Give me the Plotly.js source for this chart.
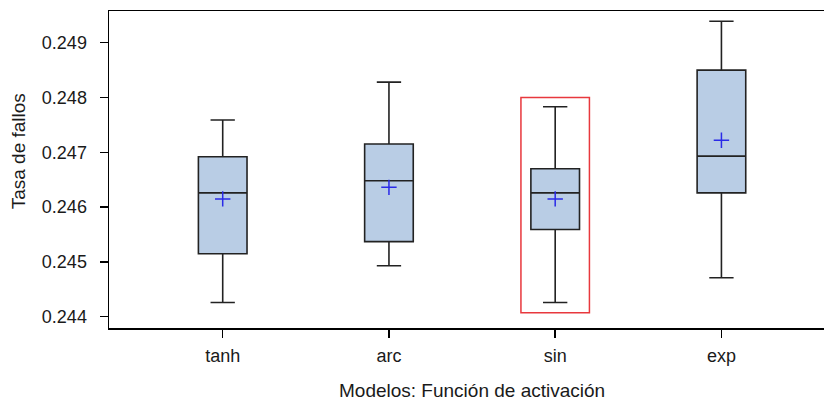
<!DOCTYPE html>
<html>
<head>
<meta charset="utf-8">
<script src="https://cdn.plot.ly/plotly-3.0.1.min.js"></script>
<style>
  html, body { margin: 0; padding: 0; background: #fff; }
  #chart { width: 824px; height: 403px; }
</style>
</head>
<body>
<div id="chart"></div>
<script>
// Activation functions compared
const modelos = ['tanh', 'arc', 'sin', 'exp'];

// Box statistics of the failure rate per model
const bigoteInferior = [0.24426, 0.24493, 0.24426, 0.24471];
const cuartil1       = [0.24515, 0.24537, 0.24559, 0.24626];
const mediana        = [0.24626, 0.24648, 0.24626, 0.24693];
const cuartil3       = [0.24692, 0.24715, 0.24670, 0.24850];
const bigoteSuperior = [0.24759, 0.24828, 0.24783, 0.24939];
const media          = [0.24615, 0.24636, 0.24615, 0.24722];

const yTicks = [0.244, 0.245, 0.246, 0.247, 0.248, 0.249];

const fontFamily = 'Arial, "Liberation Sans", sans-serif';
const textColor = '#1a1a1a';

const cajas = {
  type: 'box',
  x: modelos,
  lowerfence: bigoteInferior,
  q1: cuartil1,
  median: mediana,
  q3: cuartil3,
  upperfence: bigoteSuperior,
  boxpoints: false,
  width: 0.2925,
  whiskerwidth: 0.5,
  fillcolor: '#b9cde5',
  line: { color: '#222222', width: 1.6 },
  hoverinfo: 'skip',
  showlegend: false
};

const medias = {
  type: 'scatter',
  mode: 'markers',
  x: modelos,
  y: media,
  marker: {
    symbol: 'cross-thin',
    size: 11,
    line: { color: '#2a2ae8', width: 1.5 }
  },
  hoverinfo: 'skip',
  showlegend: false
};

// highlight frame around the selected model
const idxSel = modelos.indexOf('sin');

const layout = {
  width: 824,
  height: 403,
  margin: { l: 109, r: 0, t: 11, b: 75 },
  paper_bgcolor: '#ffffff',
  plot_bgcolor: '#ffffff',
  font: { family: fontFamily, size: 18, color: textColor },
  showlegend: false,
  xaxis: {
    type: 'category',
    range: [-0.684, 3.617],
    showgrid: false,
    zeroline: false,
    showline: true,
    mirror: true,
    linecolor: '#000',
    linewidth: 1.5,
    ticks: 'outside',
    ticklen: 8,
    tickwidth: 1.5,
    tickcolor: '#000',
    ticklabelstandoff: 3,
    tickfont: { family: fontFamily, size: 18, color: textColor },
    fixedrange: true
  },
  yaxis: {
    range: [0.243794, 0.249578],
    tickvals: yTicks,
    ticktext: yTicks.map(v => v.toFixed(3)),
    showgrid: false,
    zeroline: false,
    showline: true,
    linecolor: '#000',
    linewidth: 1.5,
    ticks: 'outside',
    ticklen: 8,
    tickwidth: 1.5,
    tickcolor: '#000',
    ticklabelstandoff: 9,
    tickfont: { family: fontFamily, size: 18, color: textColor },
    fixedrange: true
  },
  shapes: [{
    type: 'rect',
    xref: 'x', yref: 'y',
    x0: idxSel - 0.206, x1: idxSel + 0.206,
    y0: 0.24407, y1: 0.24800,
    line: { color: '#e8383d', width: 1.5 },
    fillcolor: 'rgba(0,0,0,0)'
  }],
  annotations: [
    {
      text: 'Modelos: Función de activación',
      xref: 'paper', yref: 'paper',
      x: 0.508, y: -0.197,
      xanchor: 'center', yanchor: 'middle',
      showarrow: false,
      font: { family: fontFamily, size: 19, color: textColor }
    },
    {
      text: 'Tasa de fallos',
      xref: 'paper', yref: 'paper',
      x: -0.127, y: 0.558,
      xanchor: 'center', yanchor: 'middle',
      textangle: -90,
      showarrow: false,
      font: { family: fontFamily, size: 19, color: textColor }
    }
  ]
};

Plotly.newPlot('chart', [cajas, medias], layout, { displayModeBar: false, staticPlot: true });
</script>
</body>
</html>
